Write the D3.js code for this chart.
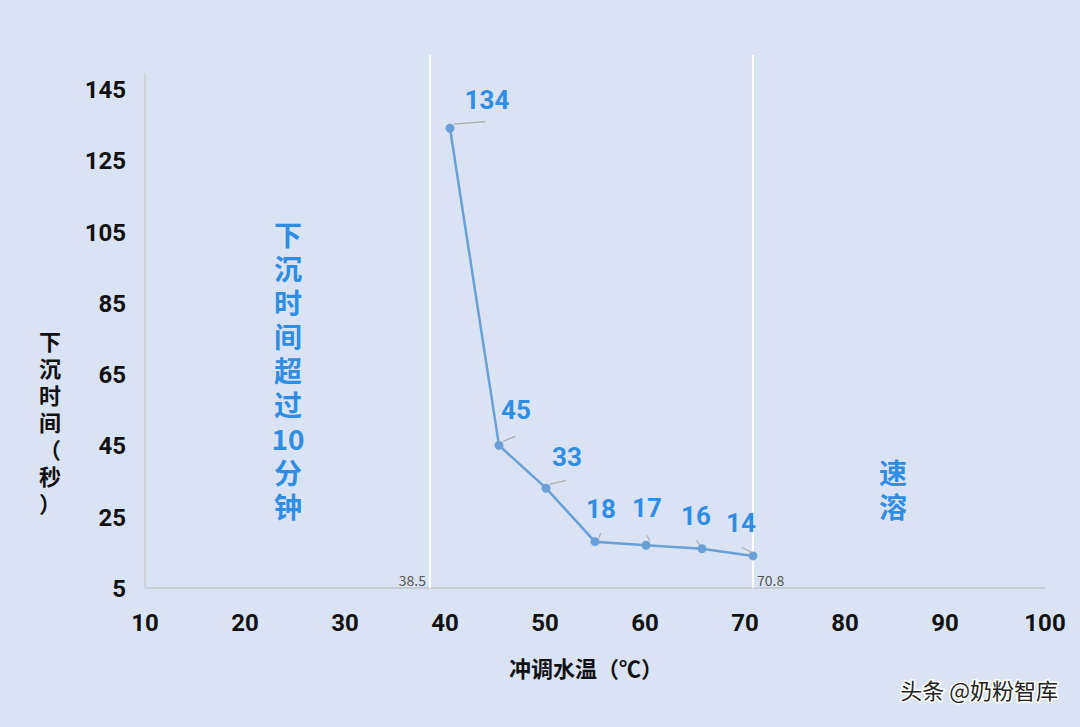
<!DOCTYPE html>
<html><head><meta charset="utf-8">
<script src="https://cdn.jsdelivr.net/npm/d3@7"></script>
<style>body{margin:0;background:#dae3f3;font-family:"Noto Sans CJK SC","Noto Sans",sans-serif}</style>
</head><body><svg id="c" width="1080" height="727"></svg>
<script>
const temps = [40.5, 45.4, 50.1, 55.0, 60.1, 65.7, 70.8];
const sinkTimes = [134, 45, 33, 18, 17, 16, 14];
const xTicks = [10, 20, 30, 40, 50, 60, 70, 80, 90, 100];
const yTicks = [5, 25, 45, 65, 85, 105, 125, 145];
const markers = [38.5, 70.8];
// label offsets (dx, dy) for leader lines
const labelOffsets = [[37, -19], [17, -26], [21, -22], [6, -24], [1, -28], [-6, -24], [-12, -24]];

const svg = d3.select("#c");
const x = d3.scaleLinear().domain([10, 100]).range([145, 1045]);
const y = d3.scaleLinear().domain([5, 145]).range([588, 89]);

svg.append("line").attr("x1", 145).attr("x2", 145).attr("y1", 73).attr("y2", 588)
   .attr("stroke", "#c8cdd6").attr("stroke-width", 1.5);
svg.append("line").attr("x1", 145).attr("x2", 1045).attr("y1", 588).attr("y2", 588)
   .attr("stroke", "#c0c4cc").attr("stroke-width", 1.5);

svg.selectAll(".xt").data(xTicks).join("text")
   .attr("x", d => x(d)).attr("y", 631).attr("text-anchor", "middle")
   .attr("font-size", 24).attr("font-weight", "bold").attr("fill", "#111")
   .attr("font-family", "Roboto, sans-serif").text(d => d);
svg.selectAll(".yt").data(yTicks).join("text")
   .attr("x", 126).attr("y", d => y(d) + 9).attr("text-anchor", "end")
   .attr("font-size", 24).attr("font-weight", "bold").attr("fill", "#111")
   .attr("font-family", "Roboto, sans-serif").text(d => d);

svg.selectAll(".mk").data(markers).join("line")
   .attr("x1", d => x(d)).attr("x2", d => x(d)).attr("y1", 55).attr("y2", 588)
   .attr("stroke", "#fff").attr("stroke-width", 2);
svg.append("text").attr("x", x(markers[0]) - 4).attr("y", 586).attr("text-anchor", "end")
   .attr("font-size", 14).attr("fill", "#555").text(markers[0]);
svg.append("text").attr("x", x(markers[1]) + 4).attr("y", 586)
   .attr("font-size", 14).attr("fill", "#555").text(markers[1]);

const pts = temps.map((t, i) => [t, sinkTimes[i]]);
svg.append("path").datum(pts)
   .attr("d", d3.line().x(d => x(d[0])).y(d => y(d[1])))
   .attr("fill", "none").attr("stroke", "#6aa0d6").attr("stroke-width", 2.5);
svg.selectAll(".pt").data(pts).join("circle")
   .attr("cx", d => x(d[0])).attr("cy", d => y(d[1])).attr("r", 4.5).attr("fill", "#6aa0d6");

pts.forEach((d, i) => {
   const [dx, dy] = labelOffsets[i];
   const px = x(d[0]), py = y(d[1]);
   svg.append("line").attr("x1", px + (dx > 0 ? 4 : -2)).attr("y1", py - 4)
      .attr("x2", px + dx * 0.95).attr("y2", py + dy * 0.35)
      .attr("stroke", "#aaa").attr("stroke-width", 1.2);
   svg.append("text").attr("x", px + dx).attr("y", py + dy)
      .attr("text-anchor", "middle").attr("font-size", 26).attr("font-weight", "bold")
      .attr("fill", "#2f8de4").attr("font-family", "Roboto, sans-serif").text(d[1]);
});

function vtext(chars, cx, top, step, size, color) {
   svg.selectAll(null).data(chars).join("text")
      .attr("x", cx).attr("y", (d, i) => top + i * step)
      .attr("text-anchor", "middle").attr("font-size", size).attr("font-weight", "bold")
      .attr("fill", color).text(d => d);
}
vtext(["下", "沉", "时", "间", "超", "过", "10", "分", "钟"], 288, 246, 34, 28, "#2f8de4");
vtext(["速", "溶"], 893, 484, 34, 28, "#2f8de4");
vtext(["下", "沉", "时", "间", "（", "秒", "）"], 50, 350, 27, 22, "#111");

svg.append("text").attr("x", 586).attr("y", 677).attr("text-anchor", "middle")
   .attr("font-size", 22).attr("font-weight", "bold").attr("fill", "#111").text("冲调水温（℃）");

svg.append("text").attr("x", 1058).attr("y", 699).attr("text-anchor", "end")
   .attr("font-size", 22).attr("fill", "#222")
   .attr("stroke", "#fff").attr("stroke-width", 3).attr("paint-order", "stroke")
   .text("头条 @奶粉智库");
</script></body></html>
